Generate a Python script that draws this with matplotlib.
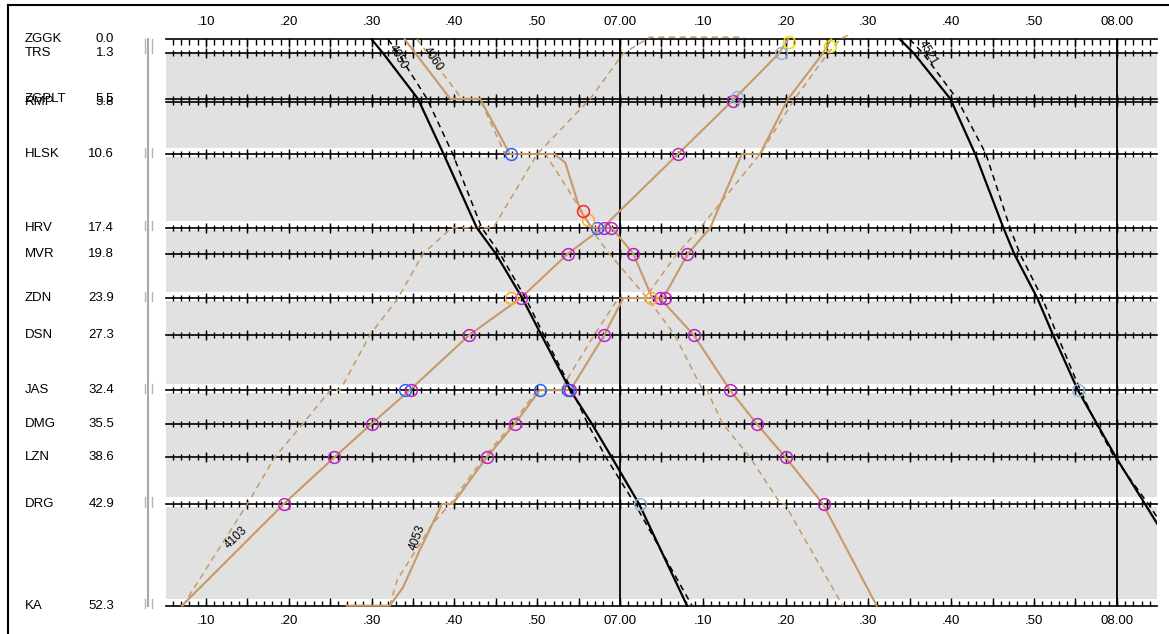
import numpy as np
import matplotlib
matplotlib.use('Agg')
from matplotlib import pyplot as plt
from matplotlib import transforms
from matplotlib.lines import Line2D

plt.rcParams['font.family'] = ['Liberation Sans', 'DejaVu Sans']

# stations (km along the line)
stations = ['ZGGK', 'TRS', 'ZGPLT', 'RMP', 'HLSK', 'HRV', 'MVR', 'ZDN', 'DSN',
            'JAS', 'DMG', 'LZN', 'DRG', 'KA']
station_km = [0.0, 1.3, 5.5, 5.8, 10.6, 17.4, 19.8, 23.9, 27.3, 32.4, 35.5,
              38.6, 42.9, 52.3]
# stations drawn with track marks / white band
marked = ['HLSK', 'HRV', 'ZDN', 'JAS', 'DRG', 'KA']

# time axis, minutes after 06.00
tick_min = [10, 20, 30, 40, 50, 60, 70, 80, 90, 100, 110, 120]
tick_lab = ['.10', '.20', '.30', '.40', '.50', '07.00',
            '.10', '.20', '.30', '.40', '.50', '08.00']

# train paths: (minutes, km)
b1_t = [30.0, 31.4, 35.6, 38.7, 42.7, 45.0, 48.2, 50.5, 54.0, 56.6, 59.0, 62.3, 68.1]
b1_km = [0.0, 1.3, 5.5, 10.6, 17.4, 19.8, 23.9, 27.3, 32.4, 35.5, 38.6, 42.9, 52.3]
b1d_t = [32.0, 33.2, 36.7, 39.8, 43.3, 45.5, 48.6, 50.8, 54.2, 56.1, 58.3, 61.8, 68.7]
b1d_km = [0.0, 1.3, 5.5, 10.6, 17.4, 19.8, 23.9, 27.3, 32.4, 35.5, 38.6, 42.9, 52.3]

b2_t = [93.8, 95.5, 99.9, 102.9, 106.3, 107.6, 110.4, 112.3, 115.3, 117.6, 119.9, 123.4, 131.0]
b2_km = [0.0, 1.3, 5.5, 10.6, 17.4, 19.8, 23.9, 27.3, 32.4, 35.5, 38.6, 42.9, 52.3]
b2d_t = [95.0, 96.6, 100.7, 104.2, 107.1, 108.3, 111.0, 112.8, 115.6, 117.5, 119.7, 123.8, 132.0]
b2d_km = [0.0, 1.3, 5.5, 10.6, 17.4, 19.8, 23.9, 27.3, 32.4, 35.5, 38.6, 42.9, 52.3]

t4103_t = [7.1, 19.4, 25.5, 30.0, 34.6, 41.8, 48.0, 53.7, 57.9, 67.0, 73.8, 79.2, 80.3]
t4103_km = [52.3, 42.9, 38.6, 35.5, 32.4, 27.3, 23.9, 19.8, 17.4, 10.6, 5.5, 1.3, 0.0]
t4103d_t = [7.2, 15.0, 18.3, 21.7, 25.0, 26.2, 29.8, 33.2, 36.2, 39.7, 44.7, 50.0,
            56.4, 60.4, 63.6, 75.0]
t4103d_km = [52.3, 42.9, 38.6, 35.5, 32.4, 32.4, 27.3, 23.9, 19.8, 17.4, 17.4, 10.6,
             5.5, 1.3, -0.2, -0.2]

t4060_t = [34.0, 39.5, 43.1, 46.7, 52.1, 53.4, 55.2, 56.6, 59.0, 61.6, 63.9, 64.8,
           68.9, 73.3, 76.5, 80.0, 84.5, 91.0]
t4060_km = [0.0, 5.5, 5.5, 10.6, 10.6, 11.4, 15.8, 17.4, 17.4, 19.8, 23.9, 23.9,
            27.3, 32.4, 35.5, 38.6, 42.9, 52.3]
t4060d_t = [35.5, 40.9, 43.1, 46.1, 51.0, 55.5, 56.4, 58.7, 63.3, 66.6, 70.0, 70.5,
            72.4, 75.7, 79.4, 79.9, 86.9]
t4060d_km = [0.0, 5.5, 5.5, 10.6, 10.6, 16.0, 17.4, 19.8, 23.9, 27.3, 32.4, 32.4,
             35.5, 38.6, 42.9, 42.9, 52.3]

t4053_t = [27.0, 32.2, 33.8, 35.8, 38.5, 39.8, 43.9, 47.3, 50.3, 54.0, 58.1, 60.4,
           65.2, 68.2, 70.9, 74.7, 76.9, 80.3, 84.5, 85.5]
t4053_km = [52.3, 52.3, 50.6, 47.2, 42.9, 42.9, 38.6, 35.5, 32.4, 32.4, 27.3, 23.9,
            23.9, 19.8, 17.4, 10.6, 10.6, 5.5, 1.3, 0.0]
t4053d_t = [32.2, 33.1, 37.4, 39.5, 43.6, 47.0, 50.0, 52.8, 56.9, 59.8, 63.0, 66.9,
            69.7, 76.9, 81.1, 85.1, 86.6, 88.0]
t4053d_km = [52.3, 49.9, 44.7, 42.9, 38.6, 35.5, 32.4, 32.4, 27.3, 23.9, 23.9, 19.8,
             17.4, 10.6, 5.5, 1.3, 0.0, -0.6]

# event circles (minutes, km)
mag_t = [73.6, 67.0, 58.1, 58.9, 53.7, 61.6, 68.1, 48.0, 64.8, 65.4, 41.8, 58.1,
         68.9, 34.8, 54.0, 73.3, 30.0, 47.3, 76.5, 25.5, 43.9, 80.0, 19.4, 84.6]
mag_km = [5.7, 10.6, 17.4, 17.4, 19.8, 19.8, 19.8, 23.9, 23.9, 23.9, 27.3, 27.3,
          27.3, 32.4, 32.4, 32.4, 35.5, 35.5, 35.5, 38.6, 38.6, 38.6, 42.9, 42.9]
blue_t = [46.8, 57.2, 34.0, 50.3, 53.7]
blue_km = [10.6, 17.4, 32.4, 32.4, 32.4]
lblue_t = [79.4, 74.1, 115.3, 62.4]
lblue_km = [1.3, 5.3, 32.4, 42.9]
orange_t = [56.1, 46.8, 63.7]
orange_km = [16.7, 23.9, 23.9]
red_t = [55.5]
red_km = [15.9]
yellow_t = [80.4, 85.4]
yellow_km = [0.25, 0.6]

W, H = 1169, 634
fig = plt.figure(figsize=(W / 100, H / 100), dpi=100)

# pixel mapping
x07, px_min = 620.0, 8.28
y0, px_km = 39.3, 10.83
left_px, right_px, top_px, bot_px = 166, 1157, 32, 606.6
tmin = 60 + (left_px - x07) / px_min
tmax = 60 + (right_px - x07) / px_min
kmin = (top_px - y0) / px_km
kmax = (bot_px - y0) / px_km

ax = fig.add_axes([left_px / W, 1 - bot_px / H, (right_px - left_px) / W,
                   (bot_px - top_px) / H])
ax.set_xlim(tmin, tmax)
ax.set_ylim(kmax, kmin)
ax.set_facecolor('#e1e1e1')
for s in ax.spines.values():
    s.set_visible(False)
ax.set_xticks([])
ax.set_yticks([])

# white areas
ax.axhspan(kmin, 1.3, color='white', lw=0, zorder=0.5)
for name, km in zip(stations, station_km):
    if name in marked:
        ax.axhspan(km - 0.6, km + 0.25, color='white', lw=0, zorder=0.5)

# station lines with minute ticks
minutes = np.arange(6, 125)
five = minutes[minutes % 5 == 0]
for name, km in zip(stations, station_km):
    ax.axhline(km, color='k', lw=1.2, zorder=2, clip_on=False)
    if name == 'ZGGK':
        ax.plot(minutes, [km] * len(minutes), ls='none', marker=3, ms=4.5,
                mew=1, color='k', zorder=2)
        ax.plot(five, [km] * len(five), ls='none', marker=3, ms=6,
                mew=1, color='k', zorder=2)
    elif name == 'KA':
        ax.plot(minutes, [km] * len(minutes), ls='none', marker=2, ms=3.5,
                mew=1, color='k', zorder=2, clip_on=False)
        ax.plot(five, [km] * len(five), ls='none', marker=2, ms=6,
                mew=1, color='k', zorder=2, clip_on=False)
    else:
        ax.plot(minutes, [km] * len(minutes), ls='none', marker='|', ms=4.5,
                mew=1, color='k', zorder=2)
        ax.plot(five, [km] * len(five), ls='none', marker='|', ms=7.5,
                mew=1, color='k', zorder=2)

ax.vlines([60, 120], 0, 52.3, color='k', lw=1.3, zorder=2)

tan = '#c69a68'
ax.plot(t4103d_t, t4103d_km, color=tan, lw=1.1, dashes=(4, 3), zorder=3)
ax.plot(t4060d_t, t4060d_km, color=tan, lw=1.1, dashes=(4, 3), zorder=3)
ax.plot(t4053d_t, t4053d_km, color=tan, lw=1.1, dashes=(4, 3), zorder=3)
ax.plot(t4103_t, t4103_km, color=tan, lw=1.5, zorder=3)
ax.plot(t4060_t, t4060_km, color=tan, lw=1.5, zorder=3)
ax.plot(t4053_t, t4053_km, color=tan, lw=1.5, zorder=3)
ax.plot(b1d_t, b1d_km, color='k', lw=1.1, dashes=(4, 3), zorder=3)
ax.plot(b2d_t, b2d_km, color='k', lw=1.1, dashes=(4, 3), zorder=3)
ax.plot(b1_t, b1_km, color='k', lw=1.6, zorder=3)
ax.plot(b2_t, b2_km, color='k', lw=1.6, zorder=3)

circ = dict(ls='none', marker='o', mfc='none', ms=8.5, mew=1.1, zorder=4)
ax.plot(mag_t, mag_km, mec='#c020c0', **circ)
ax.plot(blue_t, blue_km, mec='#2a62ff', **circ)
ax.plot(lblue_t, lblue_km, mec='#98b4d8', **circ)
ax.plot(orange_t, orange_km, mec='#ffa838', **circ)
ax.plot(red_t, red_km, mec='#ff2020', **circ)
ax.plot(yellow_t, yellow_km, mec='#f0e000', **circ)

# train numbers
lab = dict(fontsize=8.5, ha='center', va='center', color='k', zorder=5)
ax.text(13.6, 46.0, '4103', rotation=44, **lab)
ax.text(35.5, 46.0, '4053', rotation=70, **lab)
ax.text(37.4, 1.8, '4060', rotation=-55, **lab)
ax.text(33.2, 1.6, '4050', rotation=-60, **lab)
ax.text(97.2, 1.3, '4521', rotation=-60, **lab)

# time labels top and bottom
tx = transforms.blended_transform_factory(ax.transData, fig.transFigure)
for m, s in zip(tick_min, tick_lab):
    fig.text(m, 1 - 22 / H, s, transform=tx, ha='center', va='center', fontsize=9.5)
    fig.text(m, 1 - 621 / H, s, transform=tx, ha='center', va='center', fontsize=9.5)

# station names and km on the left
ty = transforms.blended_transform_factory(fig.transFigure, ax.transData)
for name, km in zip(stations, station_km):
    fig.text(25 / W, km, name, transform=ty, ha='left', va='center', fontsize=9.5)
    fig.text(114 / W, km, '%.1f' % km, transform=ty, ha='right', va='center',
             fontsize=9.5)

fig.add_artist(Line2D([148 / W, 148 / W], [0, 52.3], transform=ty,
                      color='#a8a8a8', lw=1.5))
spans = [(0.0, 1.3)] + [(km - 0.6, km + 0.25) for name, km in
                        zip(stations, station_km) if name in marked]
for a, b in spans:
    for xp in (144.5, 151.5):
        fig.add_artist(Line2D([xp / W, xp / W], [a, b], transform=ty,
                              color='#b4b4b4', lw=1.0))

# outer frame (top and left)
fig.add_artist(Line2D([8 / W, 1], [1 - 5 / H, 1 - 5 / H], color='k', lw=1.5))
fig.add_artist(Line2D([8 / W, 8 / W], [0, 1 - 5 / H], color='k', lw=1.5))

fig.savefig('out.png', dpi=100)
